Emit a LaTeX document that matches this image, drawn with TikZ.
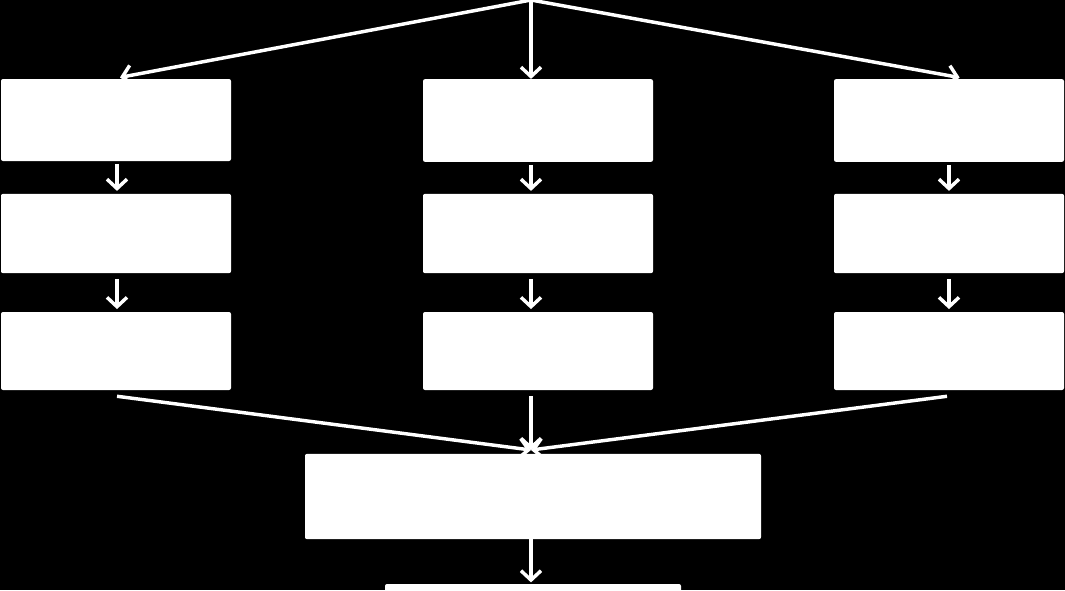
\documentclass[tikz,border=0pt]{standalone}
\usepackage{tikz}
\usetikzlibrary{arrows.meta, positioning}

\tikzset{
  stage/.style={fill=white, rounded corners=1.5pt, inner sep=0pt, minimum width=172.5pt},
  flow/.style={draw=white, line width=2.6pt, -{Straight Barb[length=7pt, width=15pt]}}
}

\begin{document}
\begin{tikzpicture}[x=0.75pt, y=-0.75pt]
  \fill[black] (0,0) rectangle (1065,590);
  \useasboundingbox (0,0) rectangle (1065,590);

  % three columns
  \node[stage, minimum height=61.5pt] (l1) at (116,120) {};
  \node[stage, minimum height=59.5pt] (l2) at (116,233.5) {};
  \node[stage, minimum height=58.5pt] (l3) at (116,351) {};
  \node[stage, minimum height=62pt] (m1) at (538,120.5) {};
  \node[stage, minimum height=59.5pt] (m2) at (538,233.5) {};
  \node[stage, minimum height=58.5pt] (m3) at (538,351) {};
  \node[stage, minimum height=62pt] (r1) at (949,120.5) {};
  \node[stage, minimum height=59.5pt] (r2) at (949,233.5) {};
  \node[stage, minimum height=58.5pt] (r3) at (949,351) {};

  % merge and output
  \node[stage, minimum width=342pt, minimum height=64pt] (merge) at (533,496.5) {};
  \node[stage, minimum width=222pt, minimum height=30pt] (out) at (533,604) {};

  \coordinate (top) at (531,0);
  \coordinate (join) at (531,450);

  \draw[flow] (top) -- ([xshift=3pt, yshift=1pt]l1.north);
  \draw[flow] (top) -- (top |- m1.north);
  \draw[flow] (top) -- ([xshift=8pt, yshift=1pt]r1.north);

  \draw[flow, shorten <=2pt, shorten >=2pt] ([xshift=0.75pt]l1.south) -- ([xshift=0.75pt]l2.north);
  \draw[flow, shorten <=4pt, shorten >=2pt] ([xshift=0.75pt]l2.south) -- ([xshift=0.75pt]l3.north);
  \draw[flow, shorten <=2pt, shorten >=2pt] (top |- m1.south) -- (top |- m2.north);
  \draw[flow, shorten <=4pt, shorten >=2pt] (top |- m2.south) -- (top |- m3.north);
  \draw[flow, shorten <=2pt, shorten >=2pt] (r1.south) -- (r2.north);
  \draw[flow, shorten <=4pt, shorten >=2pt] (r2.south) -- (r3.north);

  \draw[flow] ([xshift=0.75pt, yshift=-4.5pt]l3.south) -- (join);
  \draw[flow] ([yshift=-4.5pt]top |- m3.south) -- (join);
  \draw[flow] ([xshift=-1.5pt, yshift=-4.5pt]r3.south) -- (join);

  \draw[flow, shorten >=1pt] (top |- merge.south) -- (top |- out.north);
\end{tikzpicture}
\end{document}
